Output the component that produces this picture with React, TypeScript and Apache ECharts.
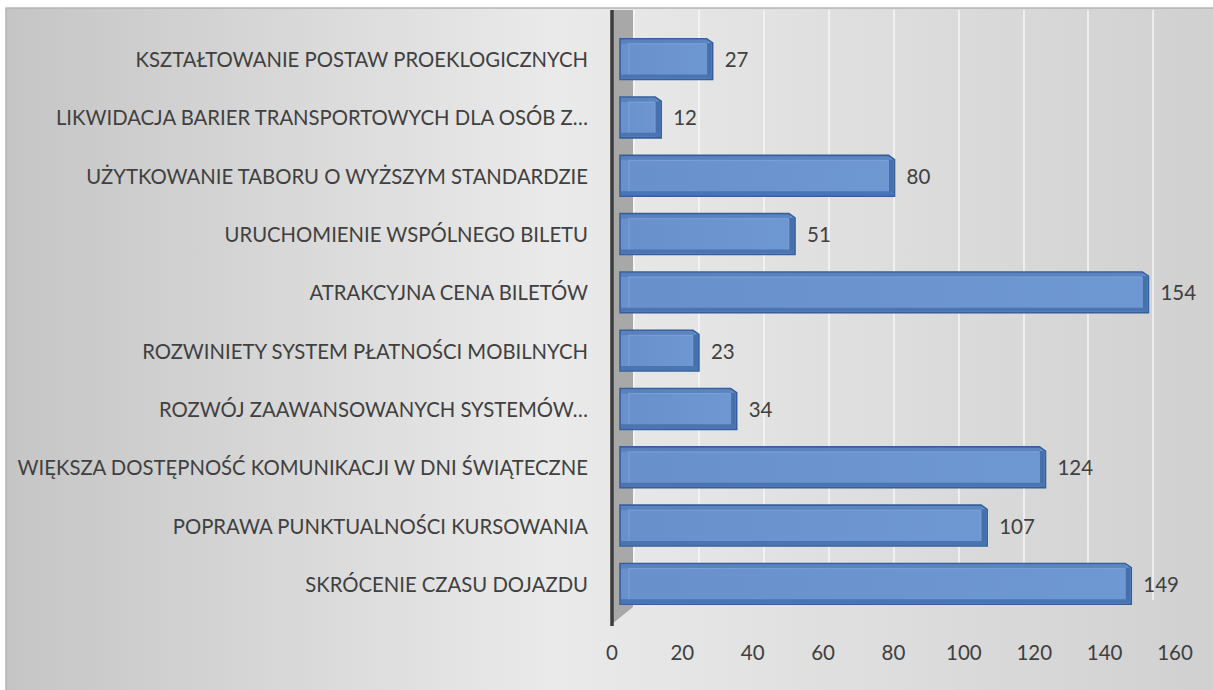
import React, { useEffect, useRef } from "react";
import * as echarts from "echarts";

const categories = [
  "KSZTAŁTOWANIE POSTAW PROEKLOGICZNYCH",
  "LIKWIDACJA BARIER TRANSPORTOWYCH DLA OSÓB Z…",
  "UŻYTKOWANIE TABORU O WYŻSZYM STANDARDZIE",
  "URUCHOMIENIE WSPÓLNEGO BILETU",
  "ATRAKCYJNA CENA BILETÓW",
  "ROZWINIETY SYSTEM PŁATNOŚCI MOBILNYCH",
  "ROZWÓJ ZAAWANSOWANYCH SYSTEMÓW…",
  "WIĘKSZA DOSTĘPNOŚĆ KOMUNIKACJI W DNI ŚWIĄTECZNE",
  "POPRAWA PUNKTUALNOŚCI KURSOWANIA",
  "SKRÓCENIE CZASU DOJAZDU",
];
const values = [27, 12, 80, 51, 154, 23, 34, 124, 107, 149];
const axisMin = 0;
const axisMax = 160;
const axisStep = 20;

const FONT = "Lato";
const TXT = "#404040";

export default function App() {
  const ref = useRef<HTMLDivElement>(null);
  useEffect(() => {
    document.body.style.margin = "0";
    const chart = echarts.init(ref.current!, null, { renderer: "svg" });
    const renderBar = (params: any, api: any) => {
      const v = api.value(0);
      const c = api.value(1);
      const p0 = api.coord([0, c]);
      const p1 = api.coord([v, c]);
      const band = api.size([0, 1])[1];
      const h = band * 0.7;
      const x0 = p0[0];
      const x1 = p1[0];
      const y0 = p0[1] - h / 2;
      const y1 = p0[1] + h / 2;
      const d = 6;
      return {
        type: "group",
        children: [
          {
            type: "polygon",
            shape: { points: [[x0, y0], [x1 - d, y0], [x1, y0 + d * 0.7], [x1, y1], [x0, y1]] },
            style: {
              fill: new echarts.graphic.LinearGradient(0, 0, 1, 0, [
                { offset: 0, color: "#6891cc" },
                { offset: 1, color: "#6e98d2" },
              ]),
              stroke: "#345f9c",
              lineWidth: 1.6,
            },
          },
          {
            type: "rect",
            shape: { x: x0 + 1, y: y0 + 1, width: x1 - x0 - d, height: 4 },
            style: { fill: "rgba(60,100,160,0.35)" },
          },
          {
            type: "rect",
            shape: { x: x1 - d, y: y0 + d * 0.7, width: d - 1, height: y1 - y0 - d * 0.7 - 1 },
            style: { fill: "#4670ab" },
          },
          {
            type: "rect",
            shape: { x: x0 + 1, y: y1 - 5, width: x1 - x0 - 2, height: 4 },
            style: { fill: "#4a75b0" },
          },
          {
            type: "line",
            shape: { x1: x0 + 9, y1: y0 + 4, x2: x0 + 9, y2: y1 - 5 },
            style: { stroke: "rgba(140,175,225,0.6)", lineWidth: 1 },
          },
          {
            type: "line",
            shape: { x1: x0 + 9, y1: y0 + 5, x2: x1 - d, y2: y0 + 5 },
            style: { stroke: "rgba(140,175,225,0.6)", lineWidth: 1 },
          },
          {
            type: "line",
            shape: { x1: x1 - d, y1: y0 + 5, x2: x1 - d, y2: y1 - 5 },
            style: { stroke: "rgba(140,175,225,0.5)", lineWidth: 1 },
          },
        ],
      };
    };

    chart.setOption({
      animation: false,
      backgroundColor: "#ffffff",
      textStyle: { fontFamily: FONT },
      graphic: [
        {
          type: "rect",
          z: -10,
          shape: { x: 6, y: 8, width: 1220, height: 700 },
          style: {
            fill: new echarts.graphic.LinearGradient(0, 0, 1, 0, [
              { offset: 0, color: "#c5c5c5" },
              { offset: 0.45, color: "#eaeaea" },
              { offset: 1, color: "#d0d0d0" },
            ]),
            stroke: "#b4b4b4",
            lineWidth: 1.5,
          },
        },
        {
          type: "polygon",
          z: -5,
          shape: { points: [[612, 10], [633, 10], [633, 607], [612, 624]] },
          style: { fill: "#a8a8a8" },
        },
        {
          type: "line",
          z: 10,
          shape: { x1: 612, y1: 10, x2: 612, y2: 626 },
          style: { stroke: "#3c3c3c", lineWidth: 3.5 },
        },
      ],
      grid: [
        { left: 620, right: 44, top: 30, bottom: 77 },
        { left: 612, right: 38, top: 30, bottom: 77 },
        { left: 634, right: 60, top: 10, bottom: 90 },
      ],
      xAxis: [
        {
          gridIndex: 0, type: "value", min: axisMin, max: axisMax, interval: axisStep,
          axisLabel: { show: false }, axisLine: { show: false }, axisTick: { show: false }, splitLine: { show: false },
        },
        {
          gridIndex: 1, type: "value", min: axisMin, max: axisMax, interval: axisStep,
          axisLabel: { show: true, color: TXT, fontSize: 20.5, fontFamily: FONT, margin: 28 },
          axisLine: { show: false }, axisTick: { show: false }, splitLine: { show: false },
        },
        {
          gridIndex: 2, type: "value", min: axisMin, max: axisMax, interval: axisStep,
          axisLabel: { show: false }, axisLine: { show: false }, axisTick: { show: false },
          splitLine: { show: true, lineStyle: { color: "rgba(250,250,250,0.85)", width: 1.5 } },
        },
      ],
      yAxis: [
        {
          gridIndex: 0, type: "category", data: categories, inverse: true,
          axisLine: { show: false }, axisTick: { show: false },
          axisLabel: { color: TXT, fontSize: 20.3, fontFamily: FONT, margin: 32 },
        },
        { gridIndex: 1, type: "category", data: categories, show: false },
        { gridIndex: 2, type: "category", data: categories, show: false },
      ],
      series: [
        {
          type: "custom",
          xAxisIndex: 0,
          yAxisIndex: 0,
          renderItem: renderBar,
          data: values.map((v, i) => [v, i]),
          encode: { x: 0, y: 1 },
          z: 5,
          silent: true,
        },
        {
          type: "bar",
          xAxisIndex: 0,
          yAxisIndex: 0,
          data: values,
          barWidth: "70%",
          itemStyle: { color: "rgba(0,0,0,0)" },
          label: { show: true, position: "right", distance: 12, color: TXT, fontSize: 20.5, fontFamily: FONT },
          silent: true,
          z: 6,
        },
      ],
    });
    return () => chart.dispose();
  }, []);
  return <div ref={ref} style={{ width: 1213, height: 690 }} />;
}
